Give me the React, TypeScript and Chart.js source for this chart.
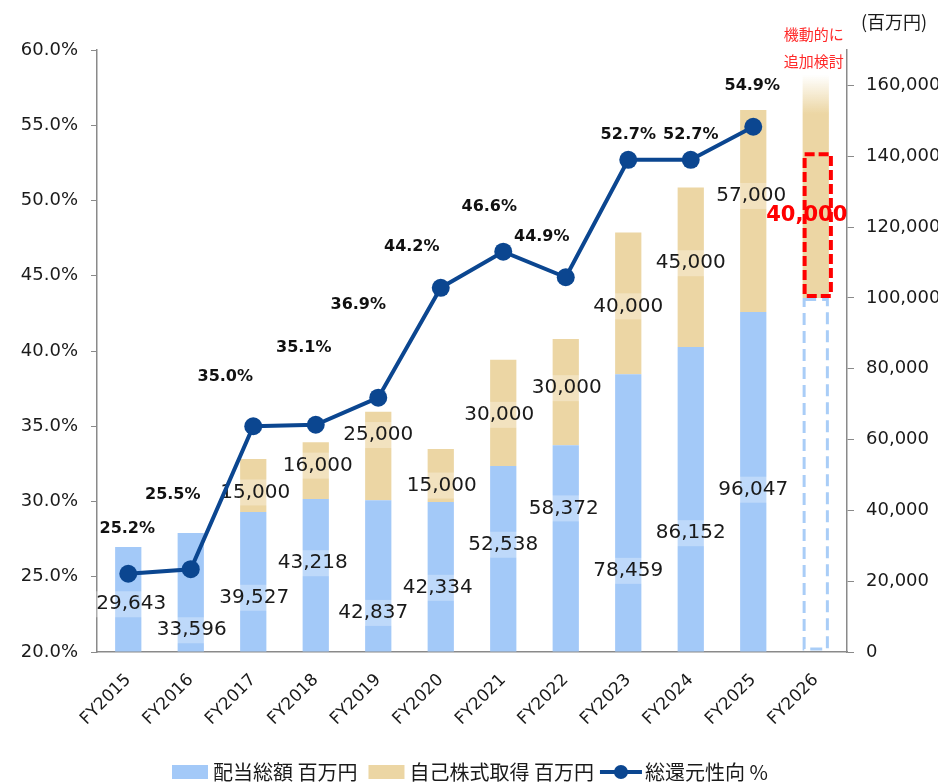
import React, { useEffect, useRef } from 'react';
import { Chart, registerables } from 'chart.js';

Chart.register(...registerables);

// ---------- data ----------
const categories = ['FY2015', 'FY2016', 'FY2017', 'FY2018', 'FY2019', 'FY2020', 'FY2021', 'FY2022', 'FY2023', 'FY2024', 'FY2025', 'FY2026'];
const dividendTotal = [29643, 33596, 39527, 43218, 42837, 42334, 52538, 58372, 78459, 86152, 96047, 100000];
const shareBuyback = [null, null, 15000, 16000, 25000, 15000, 30000, 30000, 40000, 45000, 57000, 63000];
const totalReturnRatio = [25.2, 25.5, 35.0, 35.1, 36.9, 44.2, 46.6, 44.9, 52.7, 52.7, 54.9, null];
const additionalBuyback = 40000; // FY2026 flexible additional buyback
const fadeSolidValue = 152000; // FY2026 tan bar fully opaque below this value
const rightTickValues = [0, 20000, 40000, 60000, 80000, 100000, 120000, 140000, 160000];
const leftTickValues = [20, 25, 30, 35, 40, 45, 50, 55, 60];
const seriesNames = ['配当総額 百万円', '自己株式取得 百万円', '総還元性向 %'];
const unitLabel = '(百万円)';
const noteLines = ['機動的に', '追加検討'];
const forecastIndex = 11;

// ---------- label layout (pixel nudges relative to their mark) ----------
const divLabelNudge = [[3, 5], [1, 38], [1, 16], [-3, -12], [-5, 37], [-3, 11], [0, -14], [-2, -40], [0, 58], [0, 34], [0, 8]];
const buyLabelNudge = [null, null, [2, 7], [2, -5], [0, -21], [1, 10], [-4, 2], [1, -4], [0, 3], [0, -4], [-2, -15]];
const pctLabelNudge = [[-1, -45], [-18, -74], [-28, -49], [-12, -77], [-20, -93], [-29, -41], [-14, -45], [-24, -40], [0, -25], [0, -25], [-1, -41]];

const BLUE = '#a3c9f8';
const BLUE_DASH = '#a9cdf7';
const TAN = '#ecd6a4';
const TAN_RGB = '236,214,164';
const NAVY = '#0b4690';
const AXIS = '#8a8a8a';
const TEXT = '#1a1a1a';
const FONT = "'DejaVu Sans', Verdana, sans-serif";
const JFONT = "'Noto Sans CJK JP', sans-serif";

const fmt = (v: number) => v.toLocaleString('en-US');

function drawValueLabel(ctx: CanvasRenderingContext2D, text: string, x: number, y: number) {
  ctx.save();
  ctx.font = `20px ${FONT}`;
  const w = ctx.measureText(text).width;
  ctx.fillStyle = 'rgba(255,255,255,0.3)';
  ctx.fillRect(x - w / 2 - 4, y - 13, w + 8, 26);
  ctx.fillStyle = TEXT;
  ctx.textAlign = 'center';
  ctx.textBaseline = 'middle';
  ctx.fillText(text, x, y);
  ctx.restore();
}

const overlayPlugin = {
  id: 'overlay',
  beforeDatasetDraw(chart: any, args: any) {
    if (args.index !== 2) return;
    const ctx: CanvasRenderingContext2D = chart.ctx;
    const divMeta = chart.getDatasetMeta(0);
    const buyMeta = chart.getDatasetMeta(1);

    // FY2026 dashed outline for dividend placeholder
    const fb: any = divMeta.data[forecastIndex];
    if (fb) {
      ctx.save();
      ctx.strokeStyle = BLUE_DASH;
      ctx.lineWidth = 3;
      ctx.setLineDash([12, 6]);
      const l = fb.x - fb.width / 2 + 1.5;
      const r = fb.x + fb.width / 2 - 1.5;
      ctx.strokeRect(l, fb.y + 1.5, r - l, fb.base - fb.y - 4);
      ctx.restore();
    }

    // value labels
    for (let i = 0; i < categories.length; i++) {
      if (i === forecastIndex) continue;
      const d: any = divMeta.data[i];
      const n = divLabelNudge[i];
      if (d && n) drawValueLabel(ctx, fmt(dividendTotal[i]), d.x + n[0], (d.y + d.base) / 2 + n[1]);
      const b: any = buyMeta.data[i];
      const bn = buyLabelNudge[i];
      const bv = shareBuyback[i];
      if (b && bn && bv != null) drawValueLabel(ctx, fmt(bv), b.x + bn[0], (b.y + b.base) / 2 + bn[1]);
    }
  },
  afterDatasetsDraw(chart: any) {
    const ctx: CanvasRenderingContext2D = chart.ctx;
    const yR = chart.scales.yR;
    const lineMeta = chart.getDatasetMeta(2);
    const divMeta = chart.getDatasetMeta(0);

    // percentage labels
    ctx.save();
    ctx.font = `bold 16px ${FONT}`;
    ctx.fillStyle = '#111';
    ctx.textAlign = 'center';
    ctx.textBaseline = 'middle';
    for (let i = 0; i < totalReturnRatio.length; i++) {
      const v = totalReturnRatio[i];
      const p: any = lineMeta.data[i];
      const n = pctLabelNudge[i];
      if (v == null || !p || !n) continue;
      ctx.fillText(v.toFixed(1) + '%', p.x + n[0], p.y + n[1]);
    }
    ctx.restore();

    // red dashed box for additional buyback
    const fb: any = divMeta.data[forecastIndex];
    if (fb) {
      const base = dividendTotal[forecastIndex];
      const yBottom = yR.getPixelForValue(base);
      const yTop = yR.getPixelForValue(base + additionalBuyback);
      const l = fb.x - fb.width / 2 + 2;
      const r = fb.x + fb.width / 2 + 2;
      ctx.save();
      ctx.strokeStyle = '#ff0000';
      ctx.lineWidth = 4;
      ctx.setLineDash([10, 4]);
      ctx.strokeRect(l, yTop - 2, r - l, yBottom - yTop);
      ctx.restore();

      ctx.save();
      ctx.font = `bold 21px ${FONT}`;
      ctx.fillStyle = '#ff0000';
      ctx.textAlign = 'center';
      ctx.textBaseline = 'middle';
      ctx.fillText(fmt(additionalBuyback), fb.x - 9, (yTop + yBottom) / 2 - 12);
      ctx.restore();

      // note
      ctx.save();
      ctx.font = `15px ${JFONT}`;
      ctx.fillStyle = '#ff2a2a';
      ctx.textAlign = 'center';
      ctx.textBaseline = 'middle';
      ctx.fillText(noteLines[0], fb.x - 2, 34);
      ctx.fillText(noteLines[1], fb.x - 2, 61);
      ctx.restore();
    }

    // unit label
    ctx.save();
    ctx.font = `18px ${JFONT}`;
    ctx.fillStyle = TEXT;
    ctx.textAlign = 'left';
    ctx.textBaseline = 'middle';
    ctx.fillText(unitLabel, chart.chartArea.right + 14, 22);
    ctx.restore();

    // legend
    ctx.save();
    ctx.font = `20px ${JFONT}`;
    ctx.textBaseline = 'middle';
    ctx.textAlign = 'left';
    const ly = 772;
    let x = 172;
    ctx.fillStyle = BLUE;
    ctx.fillRect(x, ly - 7, 36, 14);
    x += 41;
    ctx.fillStyle = TEXT;
    ctx.fillText(seriesNames[0], x, ly);
    x += ctx.measureText(seriesNames[0]).width + 11;
    ctx.fillStyle = TAN;
    ctx.fillRect(x, ly - 7, 36, 14);
    x += 41;
    ctx.fillStyle = TEXT;
    ctx.fillText(seriesNames[1], x, ly);
    x += ctx.measureText(seriesNames[1]).width + 6;
    ctx.strokeStyle = NAVY;
    ctx.lineWidth = 4;
    ctx.beginPath();
    ctx.moveTo(x, ly);
    ctx.lineTo(x + 42, ly);
    ctx.stroke();
    ctx.fillStyle = NAVY;
    ctx.beginPath();
    ctx.arc(x + 21, ly, 7, 0, Math.PI * 2);
    ctx.fill();
    x += 45;
    ctx.fillStyle = TEXT;
    ctx.fillText(seriesNames[2], x, ly);
    ctx.restore();
  },
};

export default function App() {
  const ref = useRef<HTMLCanvasElement | null>(null);
  useEffect(() => {
    if (!ref.current) return;
    const chart = new Chart(ref.current, {
      type: 'bar',
      data: {
        labels: categories,
        datasets: [
          {
            type: 'bar',
            label: seriesNames[0],
            data: dividendTotal,
            yAxisID: 'yR',
            stack: 's',
            order: 1,
            backgroundColor: dividendTotal.map((_, i) => (i === forecastIndex ? 'rgba(0,0,0,0)' : BLUE)),
            barPercentage: 0.42,
            categoryPercentage: 1,
          },
          {
            type: 'bar',
            label: seriesNames[1],
            data: shareBuyback as any,
            yAxisID: 'yR',
            stack: 's',
            order: 2,
            backgroundColor: (c: any) => {
              if (c.dataIndex !== forecastIndex) return TAN;
              const ch = c.chart;
              const s = ch.scales && ch.scales.yR;
              if (!s || !ch.chartArea) return TAN;
              const top = s.getPixelForValue(dividendTotal[forecastIndex] + (shareBuyback[forecastIndex] as number));
              const solid = s.getPixelForValue(fadeSolidValue);
              const g = ch.ctx.createLinearGradient(0, top, 0, solid);
              g.addColorStop(0, `rgba(${TAN_RGB},0)`);
              g.addColorStop(1, `rgba(${TAN_RGB},1)`);
              return g;
            },
            barPercentage: 0.42,
            categoryPercentage: 1,
          },
          {
            type: 'line',
            label: seriesNames[2],
            data: totalReturnRatio as any,
            yAxisID: 'yL',
            order: 0,
            borderColor: NAVY,
            backgroundColor: NAVY,
            borderWidth: 4,
            pointRadius: 9,
            pointBackgroundColor: NAVY,
            pointBorderWidth: 0,
            tension: 0,
            spanGaps: false,
          },
        ],
      },
      options: {
        responsive: false,
        animation: false,
        devicePixelRatio: 1,
        layout: { padding: { top: 50, left: 0, right: 0, bottom: 0 } },
        plugins: { legend: { display: false }, tooltip: { enabled: false } },
        scales: {
          x: {
            stacked: true,
            grid: { display: false },
            border: { display: true, color: AXIS, width: 1.5 },
            ticks: {
              minRotation: 45,
              maxRotation: 45,
              color: TEXT,
              font: { family: FONT, size: 17 },
              padding: 10,
              autoSkip: false,
            },
            afterFit: (s: any) => { s.height = 130; },
          },
          yR: {
            position: 'right',
            stacked: true,
            min: 0,
            max: 170000,
            grid: { drawOnChartArea: false, drawTicks: true, tickLength: 7, color: AXIS },
            border: { display: true, color: AXIS, width: 1.5 },
            ticks: {
              color: TEXT,
              font: { family: FONT, size: 18 },
              padding: 12,
              callback: (v: any) => fmt(Number(v)),
            },
            afterBuildTicks: (s: any) => { s.ticks = rightTickValues.map((value) => ({ value })); },
            afterFit: (s: any) => { s.width = 91; },
          },
          yL: {
            position: 'left',
            min: 20,
            max: 60,
            grid: { drawOnChartArea: false, drawTicks: true, tickLength: 6, color: AXIS },
            border: { display: true, color: AXIS, width: 1.5 },
            ticks: {
              color: TEXT,
              font: { family: FONT, size: 18 },
              padding: 13,
              callback: (v: any) => Number(v).toFixed(1) + '%',
            },
            afterBuildTicks: (s: any) => { s.ticks = leftTickValues.map((value) => ({ value })); },
            afterFit: (s: any) => { s.width = 97; },
          },
        },
      },
      plugins: [overlayPlugin],
    } as any);
    return () => chart.destroy();
  }, []);
  return (
    <div style={{ position: 'absolute', left: 0, top: 0, width: 938, height: 782, background: '#fff' }}>
      <canvas ref={ref} width={938} height={782} style={{ display: 'block' }} />
    </div>
  );
}
